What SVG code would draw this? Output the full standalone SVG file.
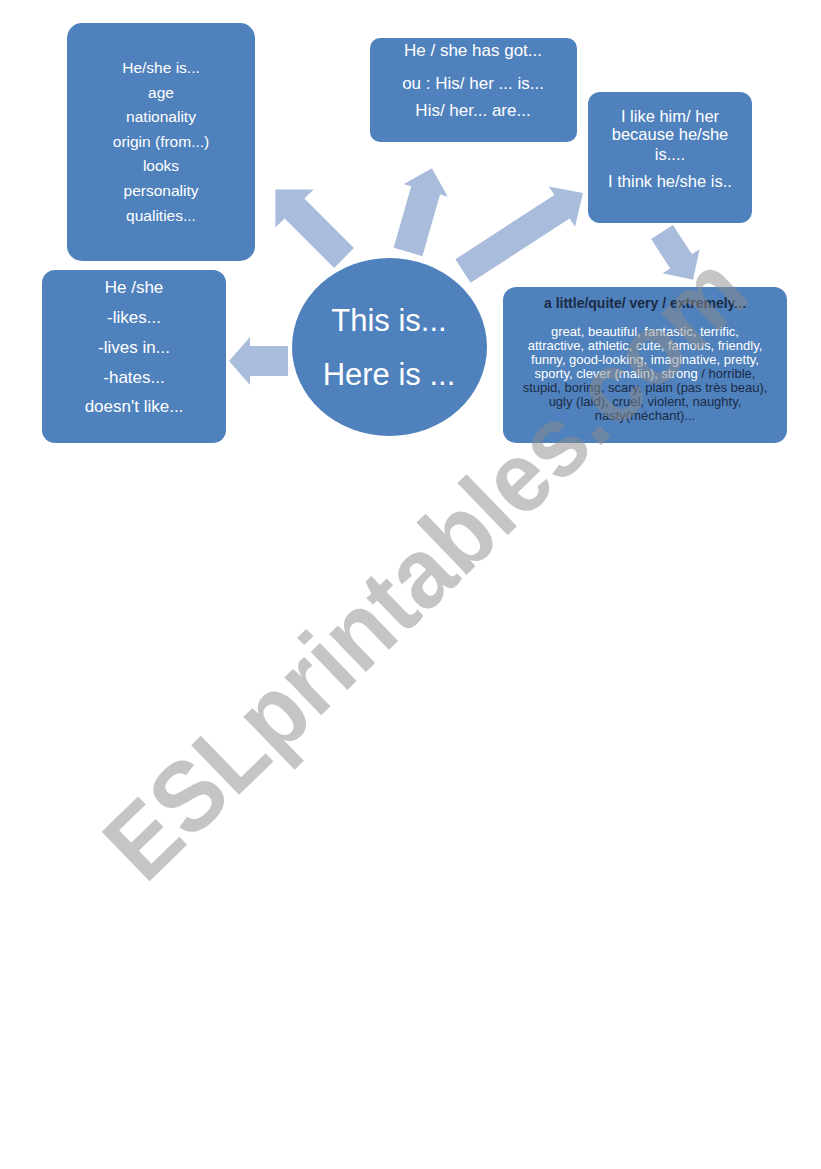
<svg xmlns="http://www.w3.org/2000/svg" width="821" height="1169" viewBox="0 0 821 1169">
<defs>
<style>
.box{fill:#4f81bd;}
.arrow{fill:#a9bcdb;}
.t{font-family:"Liberation Sans","Open Sans",Arial,sans-serif;fill:#ffffff;text-anchor:middle;}
.dark{fill:#1c2b45;}
.wm{font-family:"Liberation Sans",Arial,sans-serif;font-weight:bold;fill:#8c8c8c;fill-opacity:0.5;text-anchor:middle;}
</style>
</defs>
<rect width="821" height="1169" fill="#ffffff"/>

<g id="connectors">
<path class="arrow" transform="translate(288,361) rotate(180)" d="M0,-15 L38,-15 L38,-24 L59,0 L38,24 L38,15 L0,15 Z"/>
<path class="arrow" transform="translate(344,258) rotate(-135)" d="M0,-14 L70,-14 L70,-27 L97,0 L70,27 L70,14 L0,14 Z"/>
<path class="arrow" transform="translate(408,252) rotate(-74)" d="M0,-15 L64,-15 L64,-23 L87,0 L64,23 L64,15 L0,15 Z"/>
<path class="arrow" transform="translate(463,271) rotate(-33)" d="M0,-14 L118,-14 L118,-24 L143,0 L118,24 L118,14 L0,14 Z"/>
<path class="arrow" transform="translate(662,232) rotate(57)" d="M0,-13 L35,-13 L35,-22 L57,0 L35,22 L35,13 L0,13 Z"/>
</g>

<g id="node-center">
<ellipse class="box" cx="389.5" cy="347" rx="97.5" ry="89"/>
<text class="t" x="389" y="331" font-size="31">This is...</text>
<text class="t" x="389" y="385" font-size="31">Here is ...</text>
</g>

<g id="node-identity">
<rect class="box" x="67" y="23" width="188" height="238" rx="15"/>
<g class="t" font-size="15.5">
<text x="161" y="73">He/she is...</text>
<text x="161" y="98">age</text>
<text x="161" y="122">nationality</text>
<text x="161" y="147">origin (from...)</text>
<text x="161" y="171">looks</text>
<text x="161" y="196">personality</text>
<text x="161" y="221">qualities...</text>
</g>
</g>

<g id="node-hasgot">
<rect class="box" x="370" y="38" width="207" height="104" rx="10"/>
<g class="t" font-size="17">
<text x="473" y="56">He / she has got...</text>
<text x="473" y="89">ou : His/ her ... is...</text>
<text x="473" y="116">His/ her... are...</text>
</g>
</g>

<g id="node-like">
<rect class="box" x="588" y="92" width="164" height="131" rx="12"/>
<g class="t" font-size="16.5">
<text x="670" y="122">I like him/ her</text>
<text x="670" y="140">because he/she</text>
<text x="670" y="160">is....</text>
<text x="670" y="187">I think he/she is..</text>
</g>
</g>

<g id="node-adjectives">
<rect class="box" x="503" y="287" width="284" height="156" rx="13"/>
<text class="t dark" x="645" y="308" font-size="14" font-weight="bold">a little/quite/ very / extremely...</text>
<g class="t" font-size="13">
<text x="645" y="336">great, beautiful, fantastic, terrific,</text>
<text x="645" y="350">attractive, athletic, cute, famous, friendly,</text>
<text x="645" y="364">funny, good-looking, imaginative, pretty,</text>
<text x="645" y="378">sporty, clever (malin), strong <tspan class="dark">/  horrible,</tspan></text>
<text class="dark" x="645" y="392">stupid, boring, scary, plain (pas très beau),</text>
<text class="dark" x="645" y="406">ugly (laid), cruel, violent, naughty,</text>
<text class="dark" x="645" y="420">nasty(méchant)...</text>
</g>
</g>

<g id="node-likes">
<rect class="box" x="42" y="270" width="184" height="173" rx="13"/>
<g class="t" font-size="17">
<text x="134" y="293">He /she</text>
<text x="134" y="323">-likes...</text>
<text x="134" y="353">-lives in...</text>
<text x="134" y="383">-hates...</text>
<text x="134" y="412">doesn't like...</text>
</g>
</g>

<g id="watermark">
<text class="wm" transform="translate(424,566) rotate(-44)" x="0" y="36" font-size="100" textLength="845" lengthAdjust="spacingAndGlyphs">ESLprintables.com</text>
</g>
</svg>
